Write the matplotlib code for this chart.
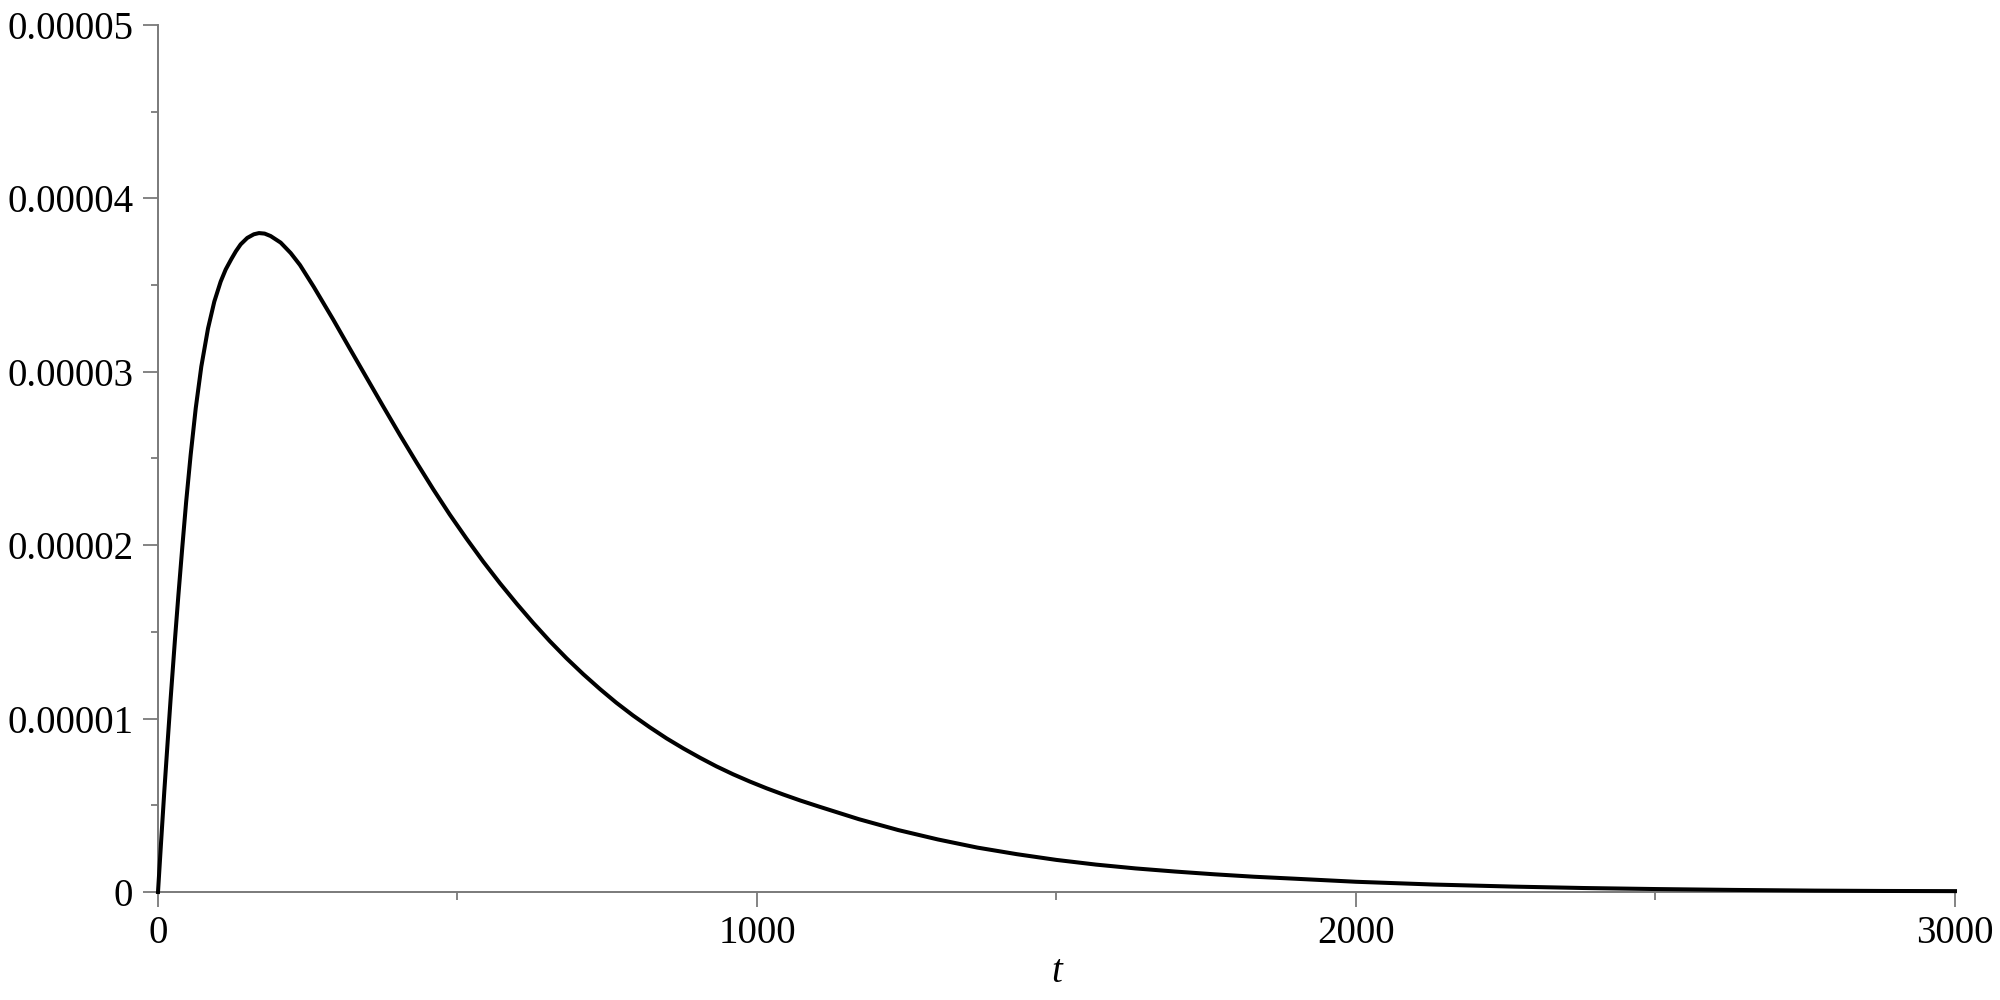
import matplotlib
matplotlib.use("Agg")
import matplotlib.pyplot as plt
from matplotlib.ticker import FixedLocator, MultipleLocator

# ---- data ----
t_values = [0, 5, 10.5, 16, 21, 28.4, 34, 40.6, 47, 54.5, 63, 72.3, 83.5, 94, 104.6,
            113, 122.4, 130, 138, 149, 160, 168.6, 178, 188, 204.8, 221.5, 237,
            260, 292.7, 320, 348.4, 376, 404, 432, 459.6, 487, 515, 543, 571, 599,
            626.6, 654, 682, 710, 738, 765, 793, 821, 849, 877, 905, 932, 960, 988,
            1016, 1044, 1072, 1104, 1170, 1236, 1302, 1368, 1434, 1500, 1566, 1632,
            1698, 1764, 1830, 1896, 2000, 2130, 2264, 2380, 2501, 2630, 2766, 2880,
            3000]
y_values_e5 = [0, 0.28, 0.58, 0.86, 1.11, 1.46, 1.71, 1.99, 2.25, 2.52, 2.79, 3.03, 3.25,
               3.405, 3.52, 3.59, 3.65, 3.695, 3.735, 3.772, 3.793, 3.80, 3.797, 3.783,
               3.745, 3.685, 3.616, 3.49, 3.30, 3.135, 2.965, 2.80, 2.635, 2.475, 2.322,
               2.177, 2.038, 1.905, 1.780, 1.662, 1.551, 1.447, 1.348, 1.256, 1.170,
               1.092, 1.018, 0.950, 0.886, 0.828, 0.774, 0.725, 0.679, 0.637, 0.598,
               0.562, 0.528, 0.492, 0.420, 0.357, 0.303, 0.256, 0.218, 0.185, 0.158,
               0.136, 0.118, 0.102, 0.088, 0.077, 0.059, 0.043, 0.031, 0.023, 0.017,
               0.012, 0.008, 0.006, 0.005]
y_values = [v * 1e-5 for v in y_values_e5]

x_major = [0, 1000, 2000, 3000]
x_major_labels = ["0", "1000", "2000", "3000"]
y_major = [0, 1e-5, 2e-5, 3e-5, 4e-5, 5e-5]
y_major_labels = ["0", "0.00001", "0.00002", "0.00003", "0.00004", "0.00005"]
x_label = "t"

# ---- figure ----
plt.rcParams['font.family'] = ['Liberation Serif', 'DejaVu Serif']
fig = plt.figure(figsize=(20, 10), dpi=100)
ax = fig.add_axes([0.079, 0.108, 0.8985, 0.867])

ax.plot(t_values, y_values, color='black', linewidth=2.9, solid_joinstyle='round',
        clip_on=False, zorder=3)

ax.set_xlim(0, 3000)
ax.set_ylim(0, 5e-5)

axis_gray = '#7a7a7a'
for side in ['top', 'right']:
    ax.spines[side].set_visible(False)
for side in ['left', 'bottom']:
    ax.spines[side].set_color(axis_gray)
    ax.spines[side].set_linewidth(1.4)

ax.xaxis.set_major_locator(FixedLocator(x_major))
ax.set_xticklabels(x_major_labels)
ax.xaxis.set_minor_locator(MultipleLocator(500))
ax.yaxis.set_major_locator(FixedLocator(y_major))
ax.set_yticklabels(y_major_labels)
ax.yaxis.set_minor_locator(MultipleLocator(5e-6))

ax.tick_params(axis='both', which='major', direction='out', length=10.8, width=1.3,
               color=axis_gray, labelsize=28, labelcolor='black')
ax.tick_params(axis='both', which='minor', direction='out', length=5.4, width=1.3,
               color=axis_gray)
ax.tick_params(axis='x', which='major', pad=6)
ax.tick_params(axis='y', which='major', pad=7)

ax.set_xlabel(x_label, fontsize=28, style='italic', va='center')
ax.xaxis.set_label_coords(0.5, -0.0934)

fig.savefig("out.png", dpi=100, facecolor='white')
